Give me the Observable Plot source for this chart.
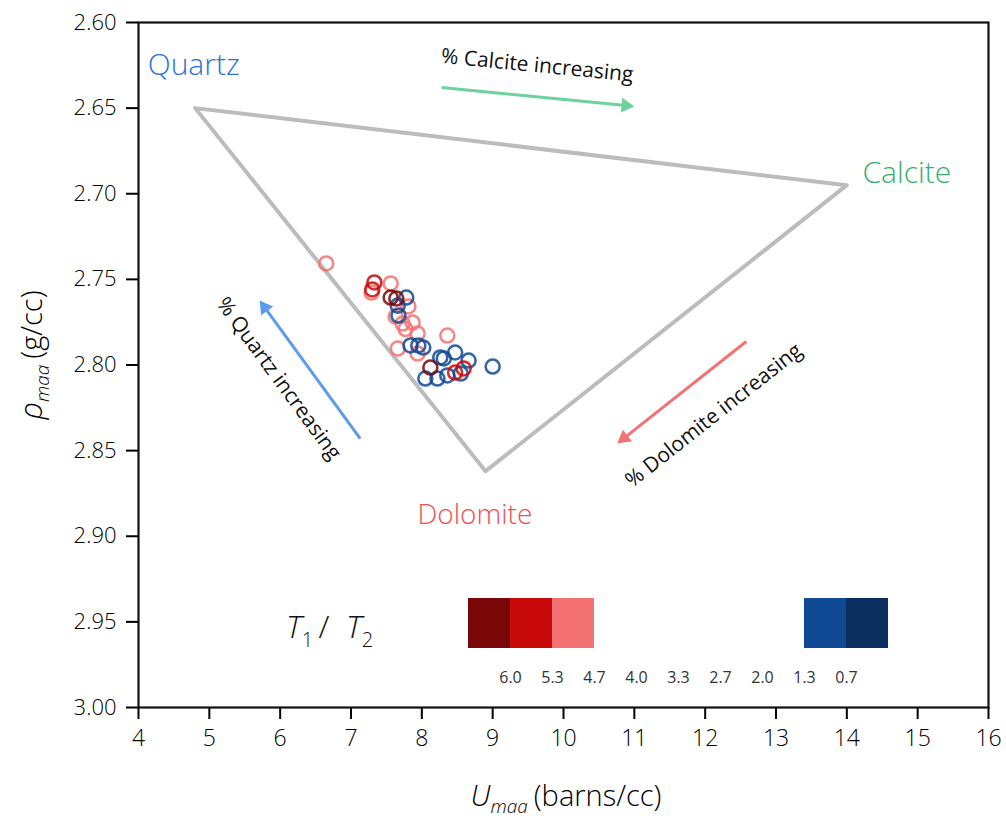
<!DOCTYPE html>
<html><head><meta charset="utf-8">
<script src="https://cdn.jsdelivr.net/npm/d3@7"></script>
<script src="https://cdn.jsdelivr.net/npm/@observablehq/plot@0.6"></script>
<style>
body{margin:0;background:#fff;}
#wrap{position:relative;width:1006px;height:823px;font-family:"Open Sans",sans-serif;}
#legend{position:absolute;left:468px;top:598px;}
#tlabel{position:absolute;left:286px;top:604px;font-size:32px;color:#111;font-family:"Open Sans",sans-serif;font-weight:300;white-space:nowrap;}
#tlabel sub{font-size:20px;font-style:normal;vertical-align:-9px;line-height:0;}
</style></head>
<body><div id="wrap"></div>
<script>
// ---- data ----
const xTicks = [4,5,6,7,8,9,10,11,12,13,14,15,16];
const yTicks = [2.60,2.65,2.70,2.75,2.80,2.85,2.90,2.95,3.00];

// mineral end points [U_maa, rho_maa]
const mineralNames = ["Quartz","Calcite","Dolomite"];
const mineralU   = [4.8, 14.0, 8.9];
const mineralRho = [2.65, 2.695, 2.862];

// T1/T2 ratio categories and colours
const ratioLevels = ["6.0","5.3","4.7","1.3","0.7"];
const ratioColors = ["#7a0707","#c80a0a","#f47272","#114a94","#0b3060"];

// samples per T1/T2 class: [U_maa, rho_maa]
const pts60 = [[7.56,2.7606],[7.64,2.7612],[8.12,2.8015]];
const pts53 = [[7.33,2.7518],[7.30,2.7559],[8.47,2.8044],[8.59,2.8020]];
const pts47 = [[6.65,2.7407],[7.56,2.7524],[7.29,2.7577],[7.81,2.7658],[7.63,2.7717],[7.73,2.7758],
               [7.87,2.7752],[7.94,2.7816],[8.36,2.7828],[7.66,2.7904],[7.94,2.7933],[7.77,2.7790]];
const pts13 = [[7.78,2.7606],[7.66,2.7653],[7.67,2.7711],[7.84,2.7886],[7.95,2.7886],[8.02,2.7898],
               [8.26,2.7956],[8.31,2.7962],[8.47,2.7927],[8.66,2.7974],[9.00,2.8009],[8.05,2.8079],
               [8.22,2.8079],[8.36,2.8061],[8.55,2.8050]];
const pts07 = [];

// legend bins (10 swatches, 9 boundary labels)
const legendLabels = ["6.0","5.3","4.7","4.0","3.3","2.7","2.0","1.3","0.7"];
const legendFills = ["#7a0707","#c80a0a","#f47272",null,null,null,null,null,"#114a94","#0b3060"];

// annotation arrows: tail [u, rho] -> tip [u, rho]
const arrowSpecs = [
  {name:"calcite",  u1:8.28,  r1:2.638,  u2:11.00, r2:2.649,  color:"#6cd39c"},
  {name:"quartz",   u1:7.13,  r1:2.843,  u2:5.71,  r2:2.7623, color:"#5b9cec"},
  {name:"dolomite", u1:12.58, r1:2.7863, u2:10.76, r2:2.8458, color:"#f27373"}
];

// ---- layout ----
const W = 1006, H = 823, mL = 138, mR = 18, mT = 22, mB = 116;
const xDomain = [4,16], yDomain = [2.6,3.0];
const xs = Plot.scale({x:{domain:xDomain, range:[mL, W-mR]}});
const ys = Plot.scale({y:{domain:yDomain, range:[mT, H-mB]}});

// arrow heads: filled triangles aligned to the shaft direction
const headR = 5.5;
const headTip = 2*Math.sqrt(Math.PI*headR*headR/(Math.sqrt(3)*3));
const arrows = arrowSpecs.map(a => {
  const px1 = xs.apply(a.u1), py1 = ys.apply(a.r1), px2 = xs.apply(a.u2), py2 = ys.apply(a.r2);
  const L = Math.hypot(px2-px1, py2-py1), ux = (px2-px1)/L, uy = (py2-py1)/L;
  const cx = px2 - ux*headTip, cy = py2 - uy*headTip;
  return {...a, hu: xs.invert(cx), hr: ys.invert(cy), rot: Math.atan2(ux, -uy)*180/Math.PI};
});

// ---- build ----
const points = [];
[[pts60,"6.0"],[pts53,"5.3"],[pts47,"4.7"],[pts13,"1.3"],[pts07,"0.7"]].forEach(([arr,k]) =>
  arr.forEach(([u,r]) => points.push({u, rho:r, ratio:k})));
const order = {"4.7":0,"1.3":1,"0.7":2,"5.3":3,"6.0":4};
points.sort((a,b)=>order[a.ratio]-order[b.ratio]);

const tri = mineralNames.map((n,i)=>({name:n,u:mineralU[i],rho:mineralRho[i]}));
const triClosed = [...tri, tri[0]];

const font = "'Open Sans', sans-serif";
const lblFont = "'Open Sans', sans-serif";
const chart = Plot.plot({
  width:W, height:H, marginLeft:mL, marginRight:mR, marginTop:mT, marginBottom:mB,
  x:{domain:xDomain},
  y:{domain:yDomain, reverse:true},
  color:{domain:ratioLevels, range:ratioColors},
  style:{fontFamily:"'Open Sans', sans-serif", background:"white", color:"#000"},
  marks:[
    Plot.axisX({ticks:xTicks, tickSize:12, tickPadding:10, fontSize:23, fontWeight:300, label:null, strokeWidth:2, tickFormat:d=>String(d)}),
    Plot.axisY({ticks:yTicks, tickSize:12, tickPadding:10, fontSize:22, fontWeight:300, label:null, strokeWidth:2, tickFormat:d=>d.toFixed(2)}),
    Plot.frame({stroke:"#111", strokeWidth:2.2}),
    Plot.line(triClosed, {x:"u", y:"rho", stroke:"#bcbcbc", strokeWidth:4}),
    Plot.dot(points, {x:"u", y:"rho", stroke:"ratio", r:7, strokeWidth:2.6, strokeOpacity:0.85}),
    Plot.link(arrows, {x1:"u1", y1:"r1", x2:"hu", y2:"hr", stroke:d=>d.color, strokeWidth:3}),
    ...arrows.map(a => Plot.dot([a], {x:"hu", y:"hr", symbol:"triangle", r:headR, fill:a.color, stroke:"none", rotate:a.rot})),
    Plot.text([tri[0]], {x:4.13, y:2.6251, text:"name", fill:"#2a72d8", fontSize:30, fontWeight:300, textAnchor:"start", fontFamily:lblFont}),
    Plot.text([tri[1]], {x:14.22, y:2.6882, text:"name", fill:"#3aae6c", fontSize:30, fontWeight:300, textAnchor:"start", fontFamily:lblFont}),
    Plot.text([tri[2]], {x:8.75, y:2.8879, text:"name", fill:"#ee4f4f", fontSize:28, fontWeight:300, textAnchor:"middle", fontFamily:lblFont}),
    Plot.text(["% Calcite increasing"], {x:9.63, y:2.6251, text:d=>d, rotate:5.6, fontSize:21, fontWeight:400, fill:"#111", fontFamily:font}),
    Plot.text(["% Quartz increasing"], {x:5.98, y:2.8079, text:d=>d, rotate:53.8, fontSize:21, fontWeight:400, fill:"#111", fontFamily:font}),
    Plot.text(["% Dolomite increasing"], {x:12.12, y:2.8295, text:d=>d, rotate:-38.3, fontSize:21, fontWeight:400, fill:"#111", fontFamily:font})
  ]
});

// axis titles with subscripts
const svg = d3.select(chart);
const xl = svg.append("text").attr("x",566).attr("y",806).attr("text-anchor","middle")
  .attr("font-size",29).attr("font-weight",300).attr("fill","#000").attr("font-family","'Open Sans', sans-serif");
xl.append("tspan").attr("font-style","italic").text("U");
xl.append("tspan").attr("font-style","italic").attr("font-size",19).attr("dy",7).text("maa");
xl.append("tspan").attr("dy",-7).attr("dx",6).text("(barns/cc)");
const yl = svg.append("text").attr("transform","translate(42,355) rotate(-90)").attr("text-anchor","middle")
  .attr("font-size",29).attr("font-weight",300).attr("fill","#000").attr("font-family","'Open Sans', sans-serif");
yl.append("tspan").attr("font-style","italic").attr("font-size",31).text("ρ");
yl.append("tspan").attr("font-style","italic").attr("font-size",19).attr("dy",7).text("maa");
yl.append("tspan").attr("dy",-7).attr("dx",6).text("(g/cc)");

document.getElementById("wrap").appendChild(chart);

// legend overlay
const bins = legendFills.map((f,i)=>({i, f}));
const legend = Plot.plot({
  width:440, height:95, marginLeft:0, marginRight:20, marginTop:0, marginBottom:0,
  x:{domain:[0,10], range:[0,420], axis:null},
  y:{domain:[-0.9,1], range:[95,0], axis:null},
  style:{fontFamily:"'Open Sans', sans-serif", background:"transparent"},
  marks:[
    Plot.rect(bins.filter(d=>d.f), {x1:d=>d.i, x2:d=>d.i+1, y1:0, y2:1, fill:d=>d.f}),
    Plot.text(legendLabels, {x:(d,i)=>i+1, y:-0.58, text:d=>d, fontSize:16, fontWeight:400, fill:"#333"})
  ]
});
const lg = document.createElement("div"); lg.id="legend"; lg.appendChild(legend);
document.getElementById("wrap").appendChild(lg);
const tl = document.createElement("div"); tl.id="tlabel";
tl.innerHTML = '<i>T</i><sub>1</sub>&thinsp;/&nbsp; <i>T</i><sub>2</sub>';
document.getElementById("wrap").appendChild(tl);
</script></body></html>
